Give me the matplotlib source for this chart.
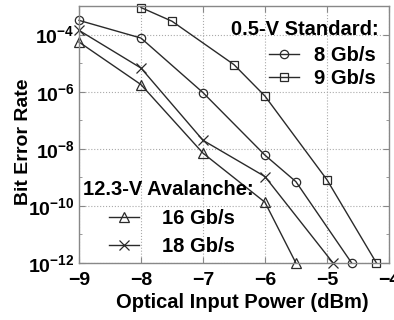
import math
import matplotlib
matplotlib.use("Agg")
import matplotlib.pyplot as plt
from matplotlib.ticker import FixedLocator, NullFormatter

# Data (optical input power in dBm, BER)
p8 = [-9, -8, -7, -6, -5.5, -4.6]
ber8 = [10**-3.5, 10**-4.12, 10**-6.03, 10**-8.22, 10**-9.15, 1e-12]
p9 = [-8, -7.5, -6.5, -6, -5, -4.2]
ber9 = [10**-3.05, 10**-3.53, 10**-5.05, 10**-6.15, 10**-9.08, 1e-12]
p16 = [-9, -8, -7, -6, -5.5]
ber16 = [10**-4.26, 10**-5.75, 10**-8.15, 10**-9.87, 1e-12]
p18 = [-9, -8, -7, -6, -4.9]
ber18 = [10**-3.85, 10**-5.17, 10**-7.7, 10**-8.97, 1e-12]

xticks = [-9, -8, -7, -6, -5, -4]
yticks = [1e-12, 1e-10, 1e-8, 1e-6, 1e-4]

fam = ['Liberation Sans', 'DejaVu Sans']
plt.rcParams['font.family'] = fam
plt.rcParams['font.weight'] = 'bold'
plt.rcParams['mathtext.fontset'] = 'custom'
plt.rcParams['mathtext.rm'] = 'Liberation Sans:bold'
plt.rcParams['mathtext.bf'] = 'Liberation Sans:bold'
plt.rcParams['mathtext.it'] = 'Liberation Sans:bold'

fig = plt.figure(figsize=(3.94, 3.20), dpi=100)
ax = fig.add_axes([0.2005, 0.178, 0.7865, 0.803])

lc = '#2a2a2a'
ms = 6
kw = dict(color=lc, lw=1.0, mfc='none', mec=lc, mew=0.9, clip_on=False)
l8, = ax.plot(p8, ber8, '-', marker='o', ms=ms, label='8 Gb/s', **kw)
l9, = ax.plot(p9, ber9, '-', marker='s', ms=ms, label='9 Gb/s', **kw)
l16, = ax.plot(p16, ber16, '-', marker='^', ms=ms + 1, label='16 Gb/s', **kw)
l18, = ax.plot(p18, ber18, '-', marker='x', ms=ms + 1, label='18 Gb/s', **kw)

ax.set_yscale('log')
ax.set_xlim(-9, -4)
ax.set_ylim(1e-12, 1e-3)
ax.xaxis.set_major_locator(FixedLocator(xticks))
ax.yaxis.set_major_locator(FixedLocator(yticks))
ax.yaxis.set_minor_locator(FixedLocator([1e-11, 1e-9, 1e-7, 1e-5, 1e-3]))
ax.yaxis.set_minor_formatter(NullFormatter())
ax.set_xticklabels(['\u2212%d' % abs(v) for v in xticks])
ax.set_yticklabels([r'$\mathdefault{10^{%d}}$' % int(round(math.log10(v))) for v in yticks])

ax.grid(True, which='major', color='#aaaaaa', ls=':', lw=0.8)
for s in ax.spines.values():
    s.set_color('#888888')
    s.set_linewidth(1.0)
ax.tick_params(which='both', direction='in', top=True, right=True, color='#888888', labelsize=14)
ax.tick_params(axis='x', pad=6.5)
ax.tick_params(axis='y', pad=3)
ax.tick_params(which='major', length=4)
ax.tick_params(which='minor', length=2.5)

ax.set_xlabel('Optical Input Power (dBm)', fontsize=14.5, fontweight='bold')
ax.xaxis.set_label_coords(0.526, -0.118)
ax.set_ylabel('Bit Error Rate', fontsize=14, fontweight='bold')
ax.yaxis.set_label_coords(-0.152, 0.473)

fp = {'size': 14.5, 'weight': 'bold', 'family': fam}
ax.text(0.968, 0.9105, '0.5-V Standard:', transform=ax.transAxes, ha='right', va='center',
        fontsize=14.5, fontweight='bold')
leg1 = ax.legend(handles=[l8, l9], loc='upper left', bbox_to_anchor=(0.613, 0.843), frameon=False,
                 prop=fp, handlelength=1.5, handletextpad=0.75, labelspacing=0.2,
                 borderpad=0.0, borderaxespad=0.0)
ax.add_artist(leg1)

ax.text(0.013, 0.288, '12.3-V Avalanche:', transform=ax.transAxes, ha='left', va='center',
        fontsize=14.5, fontweight='bold')
leg2 = ax.legend(handles=[l16, l18], loc='upper left', bbox_to_anchor=(0.097, 0.210), frameon=False,
                 prop=fp, handlelength=1.5, handletextpad=1.15, labelspacing=0.45,
                 borderpad=0.0, borderaxespad=0.0)

fig.savefig('out.png', dpi=100)
